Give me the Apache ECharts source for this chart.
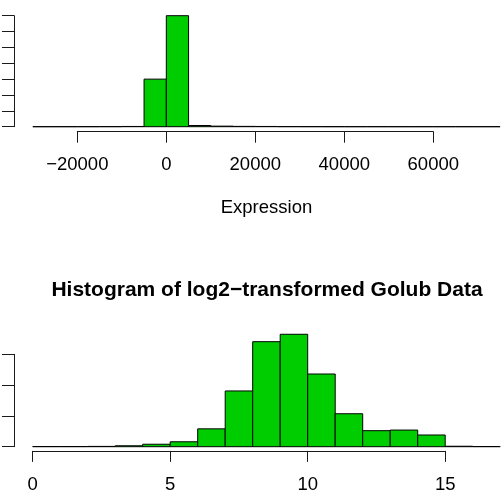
<!DOCTYPE html>
<html>
<head>
<meta charset="utf-8">
<script src="https://cdn.jsdelivr.net/npm/echarts@6/dist/echarts.min.js"></script>
<style>
html,body{margin:0;padding:0;background:#fff;}
#c{width:503px;height:500px;}
</style>
</head>
<body>
<div id="c"></div>
<script>
// ---- Data: raw expression histogram (bin edges and counts) ----
var exprBreaks = [-30000,-25000,-20000,-15000,-10000,-5000,0,5000,10000,15000,20000,25000,30000,35000,40000,45000,50000,55000,60000,65000,70000,75000];
var exprCounts = [10,20,40,100,300,60000,140000,1500,700,400,300,150,80,50,30,20,10,8,6,4,3];
var exprTicksX = [-20000,0,20000,40000,60000];

// ---- Data: log2-transformed histogram ----
var logBreaks = [0,1,2,3,4,5,6,7,8,9,10,11,12,13,14,15,16,17];
var logCounts = [50,50,100,300,800,1600,5800,18100,34100,36500,23600,10700,5200,5400,3800,150,50];
var logTicksX = [0,5,10,15];

var titleText = 'Histogram of log2\u2212transformed Golub Data';
var xNameTop = 'Expression';

function bins(breaks, counts){
  var out = [];
  for (var i = 0; i < counts.length; i++) out.push([breaks[i], breaks[i+1], counts[i]]);
  return out;
}
function minusFmt(v){ return String(v).replace('-', '\u2212'); }

var FONT = 'Liberation Sans, Arial, Helvetica, sans-serif';
var GREEN = '#00CD00';
var LINE = '#1a1a1a';

function renderRect(params, api){
  var p0 = api.coord([api.value(0), 0]);
  var p1 = api.coord([api.value(1), api.value(2)]);
  return {
    type: 'rect',
    shape: { x: p0[0], y: p1[1], width: p1[0] - p0[0], height: p0[1] - p1[1] },
    style: { fill: GREEN, stroke: '#000', lineWidth: 1 }
  };
}

var chart = echarts.init(document.getElementById('c'), null, {renderer: 'canvas'});
chart.setOption({
  animation: false,
  backgroundColor: '#fff',
  title: {
    text: titleText,
    left: 262, top: 275, textAlign: 'center',
    textStyle: { fontFamily: FONT, fontWeight: 'bold', fontSize: 21, color: '#000' }
  },
  grid: [
    { left: 32.8, width: 467.3, top: 15.7, height: 111 },     // 0 top data
    { left: 14, width: 10, top: 15.7, height: 111 },          // 1 top y-axis
    { left: 77.3, width: 356, top: 120, height: 11.7 },       // 2 top x-axis
    { left: 32.7, width: 467.5, top: 323.5, height: 123.2 },  // 3 bottom data
    { left: 14, width: 10, top: 354.3, height: 92.4 },        // 4 bottom y-axis
    { left: 32.7, width: 412.5, top: 440, height: 10.9 }      // 5 bottom x-axis
  ],
  xAxis: [
    { gridIndex: 0, type: 'value', min: exprBreaks[0], max: exprBreaks[exprBreaks.length-1],
      name: xNameTop, nameLocation: 'middle', nameGap: 72,
      nameTextStyle: { fontFamily: FONT, fontSize: 18.5, color: '#000' },
      axisLine: {show:false}, axisTick:{show:false}, axisLabel:{show:false}, splitLine:{show:false} },
    { gridIndex: 1, type: 'value', show: false, min: 0, max: 1 },
    { gridIndex: 2, type: 'value', min: exprTicksX[0], max: exprTicksX[exprTicksX.length-1], interval: 20000,
      axisLine: { lineStyle: { color: LINE, width: 1 } },
      axisTick: { length: 11, lineStyle: { color: LINE, width: 1 } },
      axisLabel: { margin: 24, fontFamily: FONT, fontSize: 18.5, color: '#000', formatter: minusFmt, showMinLabel: true, showMaxLabel: true },
      splitLine: { show: false } },
    { gridIndex: 3, type: 'value', show: false, min: logBreaks[0], max: logBreaks[logBreaks.length-1] },
    { gridIndex: 4, type: 'value', show: false, min: 0, max: 1 },
    { gridIndex: 5, type: 'value', min: logTicksX[0], max: logTicksX[logTicksX.length-1], interval: 5,
      axisLine: { lineStyle: { color: LINE, width: 1 } },
      axisTick: { length: 11, lineStyle: { color: LINE, width: 1 } },
      axisLabel: { margin: 25, fontFamily: FONT, fontSize: 18.5, color: '#000', showMinLabel: true, showMaxLabel: true },
      splitLine: { show: false } }
  ],
  yAxis: [
    { gridIndex: 0, type: 'value', show: false, min: 0, max: 140000 },
    { gridIndex: 1, type: 'value', min: 0, max: 140000, interval: 20000,
      axisLine: { show: true, lineStyle: { color: LINE, width: 1 } },
      axisTick: { show: true, length: 12, lineStyle: { color: LINE, width: 1 } },
      axisLabel: { show: false }, splitLine: { show: false } },
    { gridIndex: 2, type: 'value', show: false, min: 0, max: 1 },
    { gridIndex: 3, type: 'value', show: false, min: 0, max: 40000 },
    { gridIndex: 4, type: 'value', min: 0, max: 30000, interval: 10000,
      axisLine: { show: true, lineStyle: { color: LINE, width: 1 } },
      axisTick: { show: true, length: 12, lineStyle: { color: LINE, width: 1 } },
      axisLabel: { show: false }, splitLine: { show: false } },
    { gridIndex: 5, type: 'value', show: false, min: 0, max: 1 }
  ],
  series: [
    { type: 'custom', xAxisIndex: 0, yAxisIndex: 0, renderItem: renderRect,
      data: bins(exprBreaks, exprCounts), encode: { x: [0, 1], y: 2 }, silent: true },
    { type: 'custom', xAxisIndex: 3, yAxisIndex: 3, renderItem: renderRect,
      data: bins(logBreaks, logCounts), encode: { x: [0, 1], y: 2 }, silent: true }
  ]
});
</script>
</body>
</html>
